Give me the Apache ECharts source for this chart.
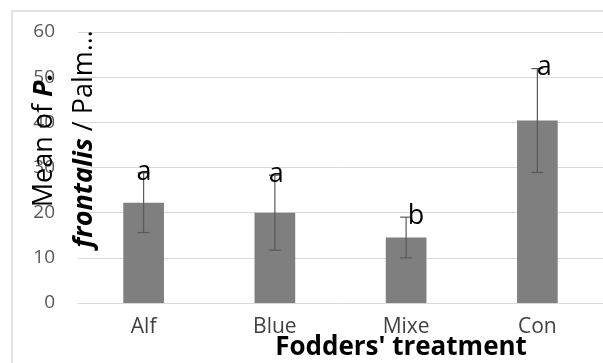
<!DOCTYPE html>
<html>
<head>
<meta charset="utf-8">
<script src="https://cdn.jsdelivr.net/npm/echarts@6/dist/echarts.min.js"></script>
<style>html,body{margin:0;padding:0;background:#fff;}#c{width:603px;height:363px;}</style>
</head>
<body>
<div id="c"></div>
<script>
var categories = ['Alf', 'Blue', 'Mixe', 'Con'];
var means = [22.2, 20.0, 14.5, 40.4];
var errors = [6.6, 8.3, 4.5, 11.5];
var letters = ['a', 'a', 'b', 'a'];
var yTicks = [0, 10, 20, 30, 40, 50, 60];

// label horizontal offsets (style only)
var letterDx = [0.5, 1.5, 10, 7];

var FONT = '"Open Sans", "Noto Sans", sans-serif';
var chart = echarts.init(document.getElementById('c'), null, {renderer: 'canvas'});

var option = {
  animation: false,
  backgroundColor: '#ffffff',
  grid: {left: 78, top: 32, width: 528, height: 271, containLabel: false},
  xAxis: {
    type: 'category',
    data: categories,
    axisTick: {show: false},
    axisLine: {show: true, lineStyle: {color: '#d9d9d9', width: 1}},
    axisLabel: {color: '#404040', fontSize: 21, fontFamily: FONT, margin: 14}
  },
  yAxis: {
    type: 'value',
    min: yTicks[0],
    max: yTicks[yTicks.length - 1],
    interval: 10,
    axisLine: {show: false},
    axisTick: {show: false},
    splitLine: {lineStyle: {color: '#d9d9d9', width: 1}},
    axisLabel: {color: '#595959', fontSize: 19, fontFamily: FONT, margin: 23}
  },
  graphic: [
    {
      type: 'rect', silent: true, z: -1,
      shape: {x: 12, y: 11, width: 800, height: 500},
      style: {fill: 'none', stroke: '#d9d9d9', lineWidth: 1.5}
    },
    {
      type: 'text', silent: true, z: 10,
      x: 44, y: 140, rotation: Math.PI / 2,
      style: {
        text: '{n|Mean of }{b|P.}',
        align: 'center', verticalAlign: 'middle',
        rich: {
          n: {fontSize: 27, fontFamily: FONT, fill: '#000'},
          b: {fontSize: 27, fontFamily: FONT, fontWeight: 'bold', fontStyle: 'italic', fill: '#000'}
        }
      }
    },
    {
      type: 'text', silent: true, z: 10,
      x: 84, y: 139, rotation: Math.PI / 2,
      style: {
        text: '{b|frontalis}{n| / Palm…}',
        align: 'center', verticalAlign: 'middle',
        rich: {
          n: {fontSize: 27, fontFamily: FONT, fill: '#000'},
          b: {fontSize: 27, fontFamily: FONT, fontWeight: 'bold', fontStyle: 'italic', fill: '#000'}
        }
      }
    },
    {
      type: 'text', silent: true, z: 10,
      x: 401, y: 348,
      style: {
        text: "Fodders' treatment",
        align: 'center', verticalAlign: 'middle',
        fontSize: 26, fontWeight: 'bold', fontFamily: FONT, fill: '#000',
        backgroundColor: '#ffffff', padding: [0, 2, 0, 2]
      }
    }
  ],
  series: [
    {
      type: 'bar',
      data: means,
      barWidth: '31%',
      itemStyle: {color: '#7f7f7f'},
      z: 2
    },
    {
      type: 'custom',
      z: 5,
      data: means.map(function (m, i) { return [i, m, errors[i]]; }),
      renderItem: function (params, api) {
        var i = api.value(0);
        var m = api.value(1);
        var e = api.value(2);
        var top = api.coord([i, m + e]);
        var bot = api.coord([i, m - e]);
        var cap = 6;
        var st = {stroke: '#595959', lineWidth: 1.2};
        return {
          type: 'group',
          children: [
            {type: 'line', shape: {x1: top[0], y1: top[1], x2: bot[0], y2: bot[1]}, style: st},
            {type: 'line', shape: {x1: top[0] - cap, y1: top[1], x2: top[0] + cap, y2: top[1]}, style: st},
            {type: 'line', shape: {x1: bot[0] - cap, y1: bot[1], x2: bot[0] + cap, y2: bot[1]}, style: st},
            {
              type: 'text', z2: 10,
              x: top[0] + letterDx[params.dataIndex], y: top[1] - 1,
              style: {
                text: letters[params.dataIndex],
                align: 'center', verticalAlign: 'middle',
                fontSize: 27, fontFamily: FONT, fill: '#000'
              }
            }
          ]
        };
      }
    }
  ]
};
chart.setOption(option);
</script>
</body>
</html>
